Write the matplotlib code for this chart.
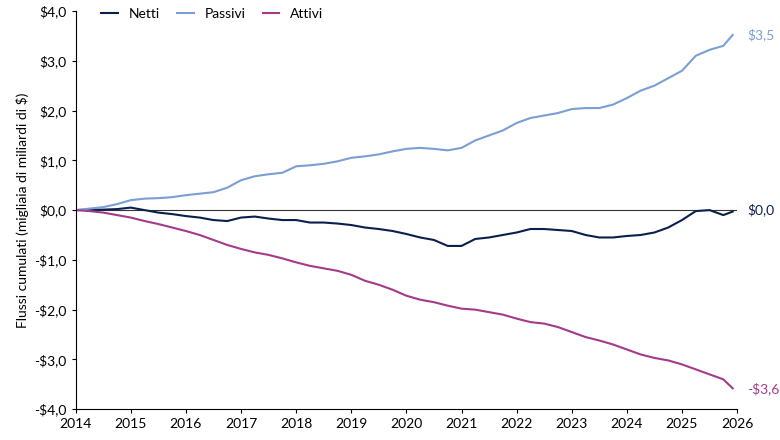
import matplotlib
matplotlib.use("Agg")
import matplotlib.pyplot as plt
import numpy as np

# quarterly dates, last point Nov 2025
anni = list(np.arange(2014, 2026, 0.25)) + [2025.92]

passivi = [0, 0.03, 0.06, 0.12, 0.2, 0.23, 0.24, 0.26, 0.3, 0.33, 0.36, 0.45,
           0.6, 0.68, 0.72, 0.75, 0.88, 0.9, 0.93, 0.98, 1.05, 1.08, 1.12, 1.18,
           1.23, 1.25, 1.23, 1.2, 1.25, 1.4, 1.5, 1.6, 1.75, 1.85, 1.9, 1.95,
           2.03, 2.05, 2.05, 2.12, 2.25, 2.4, 2.5, 2.65, 2.8, 3.1, 3.22, 3.3, 3.52]
attivi = [0, -0.02, -0.05, -0.1, -0.15, -0.22, -0.28, -0.35, -0.42, -0.5, -0.6, -0.7,
          -0.78, -0.85, -0.9, -0.97, -1.05, -1.12, -1.17, -1.22, -1.3, -1.42, -1.5, -1.6,
          -1.72, -1.8, -1.85, -1.92, -1.98, -2.0, -2.05, -2.1, -2.18, -2.25, -2.28, -2.35,
          -2.45, -2.55, -2.62, -2.7, -2.8, -2.9, -2.97, -3.02, -3.1, -3.2, -3.3, -3.4, -3.58]
netti = [0, 0.01, 0.01, 0.02, 0.05, 0, -0.05, -0.08, -0.12, -0.15, -0.2, -0.22,
         -0.15, -0.13, -0.17, -0.2, -0.2, -0.25, -0.25, -0.27, -0.3, -0.35, -0.38, -0.42,
         -0.48, -0.55, -0.6, -0.72, -0.72, -0.58, -0.55, -0.5, -0.45, -0.38, -0.38, -0.4,
         -0.42, -0.5, -0.55, -0.55, -0.52, -0.5, -0.45, -0.35, -0.2, -0.02, 0.0, -0.1, -0.03]

c_netti = "#0b1f4f"
c_pass = "#7b9ed4"
c_att = "#a33b8a"

plt.rcParams['font.family'] = ['Lato', 'DejaVu Sans']
fig, ax = plt.subplots(figsize=(7.8, 4.4), dpi=100)
fig.subplots_adjust(left=0.097, right=0.945, top=0.975, bottom=0.07)

ax.plot(anni, netti, color=c_netti, lw=1.5, label="Netti")
ax.plot(anni, passivi, color=c_pass, lw=1.5, label="Passivi")
ax.plot(anni, attivi, color=c_att, lw=1.5, label="Attivi")
ax.axhline(0, color="#333333", lw=0.8, zorder=0)

ax.set_xlim(2014, 2026)
ax.set_ylim(-4, 4)
ax.set_xticks(range(2014, 2027))
ax.set_yticks(range(-4, 5))
ax.set_yticklabels([("-$" if v < 0 else "$") + f"{abs(v)},0" for v in range(-4, 5)])
ax.tick_params(labelsize=10, length=3)
for s in ["top", "right"]:
    ax.spines[s].set_visible(False)
ax.set_ylabel("Flussi cumulati (migliaia di miliardi di $)", fontsize=10)

ax.text(2026.18, passivi[-1], "$3,5", color=c_pass, fontsize=10, va="center")
ax.text(2026.18, 0, "$0,0", color=c_netti, fontsize=10, va="center")
ax.text(2026.18, attivi[-1], "-$3,6", color=c_att, fontsize=10, va="center")

ax.legend(loc="upper left", bbox_to_anchor=(0.02, 1.04), ncol=3, frameon=False,
          fontsize=10, handlelength=1.2, columnspacing=1.2)

fig.savefig("out.png")
